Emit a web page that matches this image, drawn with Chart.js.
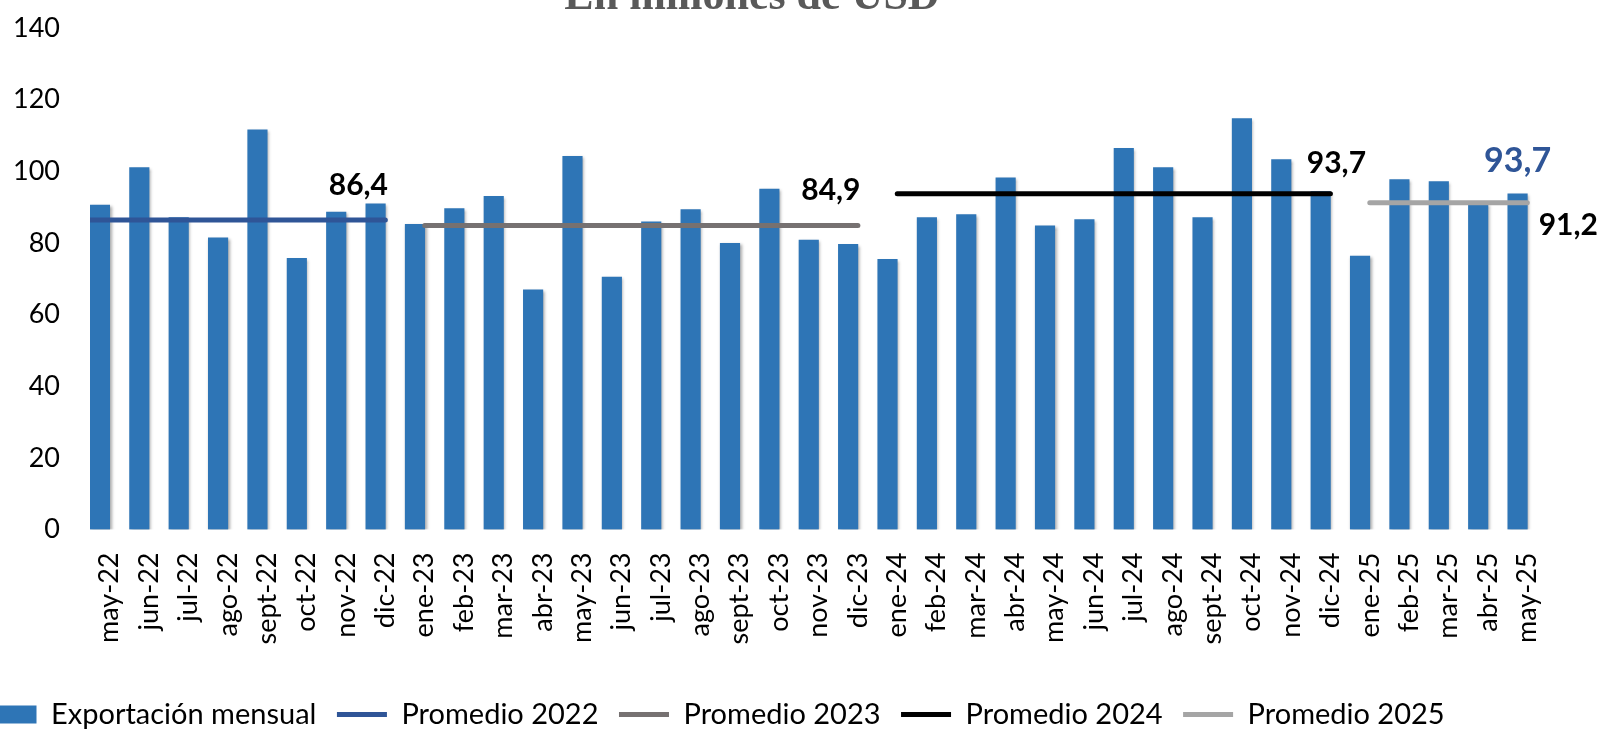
<!DOCTYPE html>
<html lang="es">
<head>
    <meta charset="UTF-8">
    <title>Exportación mensual</title>
    <style>
        html, body { margin: 0; padding: 0; background: #ffffff; }
    </style>
    <script src="https://cdn.jsdelivr.net/npm/chart.js"></script>
</head>
<body>
    <canvas id="grafico" width="1601" height="729"></canvas>

    <script>
        // Meses (eje X)
        const meses = ['may-22', 'jun-22', 'jul-22', 'ago-22', 'sept-22', 'oct-22', 'nov-22', 'dic-22',
            'ene-23', 'feb-23', 'mar-23', 'abr-23', 'may-23', 'jun-23', 'jul-23', 'ago-23', 'sept-23', 'oct-23', 'nov-23', 'dic-23',
            'ene-24', 'feb-24', 'mar-24', 'abr-24', 'may-24', 'jun-24', 'jul-24', 'ago-24', 'sept-24', 'oct-24', 'nov-24', 'dic-24',
            'ene-25', 'feb-25', 'mar-25', 'abr-25', 'may-25'];

        // Exportación mensual, millones de USD
        const exportacion = [90.6, 101.0, 87.1, 81.4, 111.6, 75.7, 88.6, 90.9,
            85.2, 89.6, 93.0, 66.9, 104.2, 70.5, 85.9, 89.3, 79.9, 95.0, 80.8, 79.6,
            75.4, 87.1, 87.9, 98.2, 84.8, 86.5, 106.4, 101.0, 87.1, 114.7, 103.3, 94.3,
            76.3, 97.7, 97.1, 91.0, 93.7];

        // Promedios anuales y meses que abarcan
        const promedioNombres = ['Promedio 2022', 'Promedio 2023', 'Promedio 2024', 'Promedio 2025'];
        const promedios = [86.4, 84.9, 93.7, 91.2];
        const promedioDesde = ['may-22', 'ene-23', 'ene-24', 'ene-25'];
        const promedioHasta = ['dic-22', 'dic-23', 'dic-24', 'may-25'];

        const yTicks = [0, 20, 40, 60, 80, 100, 120, 140];

        const coloresPromedio = ['#2F5597', '#767171', '#000000', '#A5A5A5'];
        const azulBarra = '#2E75B6';

        const formato = v => v.toFixed(1).replace('.', ',');

        // la linea de 2022 arranca desde el borde izquierdo del eje
        const inicioExtra = [-0.5, 0, 0, 0];

        const lineas = promedios.map((p, i) => ({
            type: 'line',
            label: promedioNombres[i],
            xAxisID: 'x2',
            data: [
                { x: meses.indexOf(promedioDesde[i]) + inicioExtra[i], y: p },
                { x: meses.indexOf(promedioHasta[i]), y: p }
            ],
            borderColor: coloresPromedio[i],
            backgroundColor: coloresPromedio[i],
            borderWidth: 5,
            borderCapStyle: 'round',
            pointRadius: 0,
            pointStyle: 'line',
            fill: false,
            order: 0
        }));

        // sombra suave de las barras
        const sombra = {
            id: 'sombra',
            beforeDatasetDraw(chart, args) {
                if (args.index !== 0) return;
                const ctx = chart.ctx;
                ctx.save();
                ctx.shadowColor = 'rgba(0,0,0,0.35)';
                ctx.shadowBlur = 3;
                ctx.shadowOffsetX = 1.5;
                ctx.shadowOffsetY = 1.5;
            },
            afterDatasetDraw(chart, args) {
                if (args.index === 0) chart.ctx.restore();
            }
        };

        // titulo cortado arriba
        const titulo = {
            id: 'titulo',
            afterDraw(chart) {
                const ctx = chart.ctx;
                ctx.save();
                ctx.font = 'bold 44px "Liberation Serif", "Times New Roman", serif';
                ctx.fillStyle = '#595959';
                ctx.textAlign = 'center';
                ctx.textBaseline = 'alphabetic';
                ctx.fillText('En millones de USD', 752, 9);
                ctx.restore();
            }
        };

        // etiquetas de valor
        const etiquetas = {
            id: 'etiquetas',
            afterDatasetsDraw(chart, args, opts) {
                const ctx = chart.ctx;
                opts.items.forEach(it => {
                    const meta = chart.getDatasetMeta(it.dataset);
                    const idx = meta.data.length - 1;
                    const el = meta.data[idx];
                    const raw = chart.data.datasets[it.dataset].data[idx];
                    const v = typeof raw === 'object' ? raw.y : raw;
                    ctx.save();
                    ctx.font = 'bold ' + it.size + 'px Lato';
                    ctx.fillStyle = it.color;
                    ctx.textAlign = 'center';
                    ctx.textBaseline = 'middle';
                    ctx.fillText(formato(v), el.x + it.dx, el.y + it.dy);
                    ctx.restore();
                });
            }
        };

        Chart.defaults.font.family = 'Lato';
        Chart.defaults.color = '#000000';

        const ctx = document.getElementById('grafico').getContext('2d');
        new Chart(ctx, {
            type: 'bar',
            data: {
                labels: meses,
                datasets: [{
                    label: 'Exportación mensual',
                    data: exportacion,
                    backgroundColor: azulBarra,
                    borderWidth: 0,
                    barThickness: 19.5,
                    pointStyle: 'rect',
                    order: 1
                }].concat(lineas)
            },
            options: {
                responsive: false,
                animation: false,
                devicePixelRatio: 1,
                layout: { padding: { top: 28, right: 54, left: -34, bottom: -10 } },
                scales: {
                    x: {
                        offset: true,
                        grid: { display: false, drawTicks: false },
                        border: { display: false },
                        ticks: {
                            autoSkip: false,
                            minRotation: 90,
                            maxRotation: 90,
                            padding: 23,
                            font: { size: 27 }
                        },
                        afterFit: s => { s.height = 150; }
                    },
                    x2: {
                        type: 'linear',
                        display: false,
                        offset: false,
                        min: -0.5,
                        max: meses.length - 0.5
                    },
                    y: {
                        min: 0,
                        max: 140,
                        grid: { display: false, drawTicks: false },
                        border: { display: false },
                        afterBuildTicks: s => { s.ticks = yTicks.map(v => ({ value: v })); },
                        ticks: { padding: 30, font: { size: 27 } },
                        afterFit: s => {
                            s.width = 124;
                            s.paddingTop = 0;
                            s.paddingBottom = 0;
                        }
                    }
                },
                plugins: {
                    tooltip: { enabled: false },
                    legend: {
                        position: 'bottom',
                        align: 'start',
                        labels: {
                            usePointStyle: true,
                            pointStyleWidth: 50,
                            boxHeight: 18,
                            padding: 20.5,
                            font: { size: 29 },
                            color: '#000000',
                            sort: (a, b) => a.datasetIndex - b.datasetIndex
                        }
                    },
                    etiquetas: {
                        items: [
                            { dataset: 1, dx: -27, dy: -35, size: 30, color: '#000000' },
                            { dataset: 2, dx: -27, dy: -35, size: 30, color: '#000000' },
                            { dataset: 3, dx: 6, dy: -31, size: 30, color: '#000000' },
                            { dataset: 4, dx: 41, dy: 23, size: 30, color: '#000000' },
                            { dataset: 0, dx: 0, dy: -33, size: 34, color: '#2F5597' }
                        ]
                    }
                }
            },
            plugins: [sombra, titulo, etiquetas]
        });
    </script>
</body>
</html>
